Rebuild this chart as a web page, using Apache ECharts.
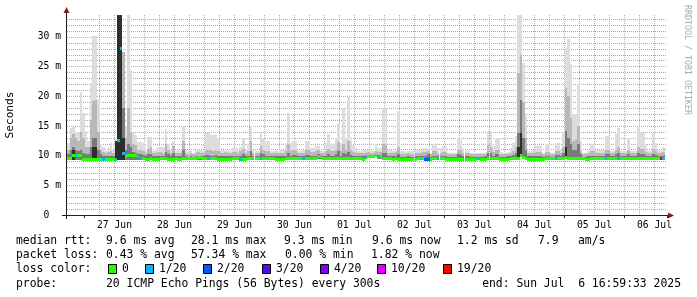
<!DOCTYPE html>
<html><head><meta charset="utf-8">
<script src="https://cdn.jsdelivr.net/npm/echarts@6/dist/echarts.min.js"></script>
<style>html,body{margin:0;padding:0;background:#fff}#c{width:697px;height:297px}</style>
</head><body><div id="c"></div><script>
// ---- data (hourly buckets, first bucket = Jun 26 17:00) ----
const dayLabels = ['27 Jun','28 Jun','29 Jun','30 Jun','01 Jul','02 Jul','03 Jul','04 Jul','05 Jul','06 Jul'];
const startHour = 17;
const yTickLabels = ['0  ','5 m','10 m','15 m','20 m','25 m','30 m'];

const smokeMax = [
 12.1,14.7,15.0,14.0,14.0,20.8,17.2,
 13.8,12.5,22.3,30.2,30.2,19.4,12.0,11.5,10.8,11.3,12.2,11.0,12.7,33.7,33.7,27.5,15.0,33.7,24.5,13.8,13.5,12.3,12.3,12.1,
 10.8,13.2,13.2,10.8,11.2,11.5,11.5,11.5,14.5,12.0,11.0,12.5,10.8,11.0,10.8,15.0,11.0,10.6,10.8,10.5,11.0,11.2,11.0,10.8,
 13.8,13.8,13.5,13.5,13.7,13.0,11.0,11.0,11.1,10.8,10.8,11.3,11.3,11.0,11.5,13.0,10.9,12.0,15.0,11.0,10.8,10.8,13.9,13.0,
 12.5,12.5,10.8,10.8,10.9,10.8,11.0,11.0,12.2,17.2,12.2,12.5,12.5,10.8,10.8,10.9,12.5,12.5,11.3,11.3,11.6,11.6,10.8,10.8,
 12.2,13.7,11.9,11.9,13.0,15.3,12.2,18.1,13.0,19.8,12.7,11.8,11.3,10.8,10.8,10.9,11.0,11.0,10.9,10.8,12.0,11.3,11.3,18.1,
 18.0,11.0,10.9,10.8,11.0,17.6,10.7,10.7,10.6,10.8,10.7,10.7,11.0,11.0,11.0,11.3,11.3,11.0,10.5,11.9,11.9,11.3,11.3,11.6,
 11.6,10.5,10.5,10.5,10.5,13.0,12.7,11.3,11.0,10.8,10.4,10.4,10.4,10.4,10.4,10.4,10.6,14.1,14.1,11.6,12.9,12.9,10.6,10.4,
 10.4,10.6,11.3,12.2,13.3,33.7,33.7,25.6,16.9,10.8,10.8,11.0,11.6,11.6,11.6,10.5,11.9,11.9,10.5,10.5,12.2,12.2,11.0,14.0,
 28.2,29.6,25.4,17.0,17.0,22.0,12.5,10.4,10.4,10.8,11.9,11.9,11.0,11.0,11.0,11.0,13.3,13.3,10.7,10.7,13.6,14.7,10.8,10.8,
 10.8,13.0,10.8,10.8,10.8,15.0,13.9,13.9,11.9,10.8,10.8,13.9,12.2,11.0,10.8,11.5,null
];
const smokeMid = [
 11.0,13.0,13.6,13.0,12.5,14.0,13.0,
 11.5,11.5,16.0,19.2,19.4,14.0,11.0,10.6,10.4,10.6,10.8,10.4,12.3,33.7,33.7,27.5,13.0,18.0,14.0,12.0,11.8,11.0,11.0,10.8,
 10.4,11.2,11.5,10.4,10.5,10.6,10.6,10.5,12.0,11.0,10.5,11.6,10.4,10.5,10.4,12.5,10.5,10.3,10.4,10.3,10.5,10.6,10.5,10.4,
 11.0,11.0,10.9,10.8,11.0,10.8,10.5,10.5,10.6,10.4,10.4,10.6,10.6,10.5,10.7,11.2,10.4,10.8,12.5,10.5,10.4,10.4,11.6,11.0,
 10.8,10.8,10.4,10.4,10.5,10.4,10.5,10.5,10.8,12.0,10.8,10.9,10.9,10.4,10.4,10.5,10.9,10.9,10.6,10.6,10.7,10.9,10.4,10.4,
 10.8,11.2,10.7,10.7,11.0,12.3,10.8,12.0,11.0,12.5,10.9,10.6,10.5,10.4,10.4,10.5,10.5,10.6,10.5,10.4,10.8,10.6,10.6,12.0,
 11.8,10.5,10.4,10.4,10.6,11.5,10.3,10.3,10.3,10.4,10.3,10.3,10.5,10.5,10.5,10.6,10.6,10.8,10.2,10.7,10.7,10.5,10.5,10.6,
 10.6,10.2,10.2,10.2,10.2,11.0,10.9,10.5,10.4,10.4,10.2,10.2,10.2,10.2,10.2,10.2,10.3,11.8,11.5,10.6,11.0,11.0,10.3,10.2,
 10.2,10.3,10.5,10.8,11.5,24.0,27.0,19.0,13.0,10.4,10.4,10.5,10.6,10.6,10.6,10.2,10.6,10.6,10.2,10.2,10.8,10.8,10.5,11.5,
 21.4,20.0,16.4,12.5,12.8,15.0,10.8,10.2,10.2,10.4,10.7,10.7,10.5,10.5,10.5,10.5,11.0,11.0,10.4,10.4,11.0,11.5,10.4,10.4,
 10.4,11.0,10.4,10.4,10.4,11.5,11.2,11.2,10.6,10.4,10.4,11.2,10.8,10.5,10.4,10.6,null
];
const smokeDark = [
 10.2,11.0,11.5,11.0,10.8,11.0,10.5,
 10.2,10.2,11.5,13.0,13.0,11.0,10.2,10.0,9.9,10.0,10.0,9.9,12.0,33.7,33.7,18.0,11.0,12.0,11.5,10.6,10.5,10.3,10.3,10.1,
 9.9,10.2,10.3,9.9,9.9,10.0,10.0,9.9,10.6,10.2,9.9,10.5,9.9,9.9,9.9,11.0,9.9,9.8,9.9,9.8,9.9,10.0,9.9,9.9,
 10.1,10.1,10.0,10.0,10.1,10.0,9.9,9.9,9.9,9.9,9.9,10.0,10.0,9.9,10.0,10.2,9.9,10.0,10.8,9.9,9.9,9.9,10.5,10.2,
 10.0,10.0,9.9,9.9,9.9,9.9,9.9,9.9,10.0,10.5,10.0,10.1,10.1,9.9,9.9,9.9,10.1,10.1,10.0,10.0,10.0,10.2,9.9,9.9,
 10.0,10.2,10.0,10.0,10.2,10.8,10.0,10.5,10.2,10.6,10.1,10.0,9.9,9.9,9.9,9.9,10.0,10.0,10.0,9.9,10.1,10.0,10.0,10.5,
 10.4,9.9,9.9,9.9,10.0,10.3,9.8,9.8,9.8,9.9,9.8,9.8,9.9,9.9,9.9,10.0,10.0,10.3,9.8,10.0,10.0,9.9,9.9,10.0,
 10.0,9.8,9.8,9.8,9.8,10.2,10.1,9.9,9.9,9.9,9.8,9.8,9.8,9.8,9.8,9.8,9.9,10.5,10.4,10.0,10.2,10.2,9.8,9.8,
 9.8,9.9,10.0,10.1,10.5,13.8,19.4,13.0,11.0,9.9,9.9,10.0,10.0,10.0,10.0,9.8,10.0,10.0,9.8,9.8,10.1,10.1,9.9,10.5,
 14.1,13.0,12.0,11.0,11.0,12.0,10.2,9.8,9.8,9.9,10.0,10.0,9.9,9.9,9.9,9.9,10.2,10.2,9.9,9.9,10.2,10.5,9.9,9.9,
 9.9,10.2,9.9,9.9,9.9,10.5,10.3,10.3,10.0,9.9,9.9,10.3,10.1,9.9,9.9,10.0,null
];
const smokeMin = [
 9.2,9.2,9.3,9.3,9.3,9.3,9.2,
 9.1,9.1,9.1,9.1,9.1,9.1,9.1,9.1,9.1,9.1,9.1,9.1,9.2,9.3,9.3,9.3,9.3,9.3,9.3,9.3,9.3,9.3,9.2,9.2,
 9.1,9.1,9.2,9.1,9.1,9.1,9.2,9.2,9.2,9.1,9.1,9.1,9.2,9.1,9.1,9.2,9.2,9.2,9.2,9.3,9.3,9.3,9.3,9.3,
 9.2,9.2,9.2,9.2,9.2,9.1,9.1,9.1,9.1,9.1,9.1,9.2,9.2,9.2,9.1,9.1,9.1,9.2,9.2,9.2,9.2,9.3,9.3,9.2,
 9.2,9.2,9.2,9.2,9.1,9.1,9.1,9.1,9.2,9.2,9.2,9.2,9.2,9.2,9.2,9.2,9.2,9.2,9.2,9.2,9.2,9.5,9.5,9.3,
 9.2,9.2,9.2,9.2,9.2,9.2,9.2,9.2,9.2,9.2,9.2,9.2,9.2,9.2,9.2,9.1,9.5,9.6,9.6,9.6,9.7,9.5,9.5,9.3,
 9.2,9.2,9.2,9.1,9.2,9.1,9.1,9.1,9.1,9.1,9.1,9.1,9.1,9.2,9.2,9.2,9.1,9.1,9.1,9.2,9.2,9.3,9.2,9.2,
 9.1,9.1,9.1,9.1,9.1,9.1,9.1,9.1,9.1,9.1,9.1,9.1,9.1,9.2,9.1,9.1,9.1,9.2,9.2,9.2,9.2,9.2,9.1,9.1,
 9.1,9.1,9.2,9.2,9.2,9.3,9.7,9.4,9.2,9.1,9.1,9.1,9.1,9.1,9.1,9.1,9.2,9.2,9.2,9.2,9.2,9.2,9.2,9.2,
 9.4,9.3,9.2,9.2,9.3,9.2,9.2,9.2,9.1,9.1,9.2,9.2,9.2,9.2,9.2,9.2,9.3,9.3,9.2,9.2,9.3,9.3,9.2,9.2,
 9.2,9.2,9.2,9.2,9.2,9.2,9.2,9.2,9.2,9.2,9.2,9.2,9.3,9.3,9.3,9.3,null
];
// hours where the innermost pings are far from the rest (near-black core)
const coreHours = [2, 10, 11, 19, 20, 21, 22, 180, 181, 199];
const coreTop   = [11.0, 11.5, 11.5, 12.4, 33.7, 33.7, 13.0, 11.5, 13.8, 11.5];
const medianRtt = [
 9.45,9.45,10.1,10.1,10.0,10.0,9.4,
 9.4,9.4,9.4,9.4,9.4,9.4,9.4,9.4,9.4,9.4,9.4,9.4,9.4,12.6,28.0,10.3,9.8,10.1,10.1,10.0,10.0,9.8,9.6,9.5,
 9.4,9.4,9.5,9.4,9.4,9.4,9.5,9.5,9.5,9.4,9.4,9.4,9.5,9.4,9.4,9.5,9.5,9.5,9.5,9.6,9.6,9.7,9.7,9.6,
 9.5,9.5,9.5,9.5,9.5,9.4,9.4,9.4,9.4,9.4,9.4,9.5,9.5,9.5,9.4,9.4,9.4,9.5,9.5,9.5,9.5,9.6,9.6,9.5,
 9.5,9.5,9.5,9.5,9.4,9.4,9.4,9.4,9.5,9.5,9.5,9.5,9.5,9.5,9.5,9.5,9.5,9.5,9.5,9.5,9.5,9.9,9.9,9.6,
 9.5,9.5,9.5,9.5,9.5,9.5,9.5,9.5,9.5,9.5,9.5,9.5,9.5,9.5,9.5,9.4,9.8,9.9,9.9,9.9,10.0,9.8,9.8,9.6,
 9.5,9.5,9.5,9.4,9.5,9.4,9.4,9.4,9.4,9.4,9.4,9.4,9.4,9.5,9.5,9.5,9.4,9.4,9.4,9.5,9.5,9.6,9.5,9.5,
 9.4,9.4,9.4,9.4,9.4,9.4,9.4,9.4,9.4,9.4,9.4,9.4,9.4,9.5,9.4,9.4,9.4,9.5,9.5,9.5,9.5,9.5,9.4,9.4,
 9.4,9.4,9.5,9.5,9.5,9.6,10.0,9.7,9.5,9.4,9.4,9.4,9.4,9.4,9.4,9.4,9.5,9.5,9.5,9.5,9.5,9.5,9.5,9.5,
 9.7,9.6,9.5,9.5,9.6,9.5,9.5,9.5,9.4,9.4,9.5,9.5,9.5,9.5,9.5,9.5,9.6,9.6,9.5,9.5,9.6,9.6,9.5,9.5,
 9.5,9.5,9.5,9.5,9.5,9.5,9.5,9.5,9.5,9.5,9.5,9.5,9.6,9.6,9.6,9.6,null
];
// hours (bucket index) with packet loss, and lost pings out of 20
const lossHours  = [3,14,19,20,21,22,28,29,56,69,77,94,119,124,141,143,144,148,164,195,215,220,237,238];
const lossCounts = [1,1,1,1,1,1,1,1,1,1,1,1,1,1,1,2,2,1,1,1,1,1,19,1];
const lossLegend = ['0','1/20','2/20','3/20','4/20','10/20','19/20'];
const lossThresholds = [0,1,2,3,4,10,19];
const statsRtt  = ['median rtt:', '9.6 ms avg', '28.1 ms max', '9.3 ms min', '9.6 ms now', '1.2 ms sd', '7.9', 'am/s'];
const statsLoss = ['packet loss:', '0.43 % avg', '57.34 % max', '0.00 % min', '1.82 % now'];
const probeText = ['probe:', '20 ICMP Echo Pings (56 Bytes) every 300s'];
const endText = 'end: Sun Jul  6 16:59:33 2025';

// ---- styles / layout ----
const lossColors = ['#26ff00','#00b8ff','#0059ff','#5e00ff','#7e00ff','#dd00ff','#ff0000'];
const MONO = '"DejaVu Sans Mono", monospace';
const G = {left: 67, top: 15, width: 600, height: 200};
const yMax = 33.7;
const rttX  = [16, 106, 191, 284, 372, 457, 538, 578];
const lossX = [16, 106, 191, 285, 371];
const probeX = [16, 106];
const boxX = [108, 145, 203, 262, 320, 377, 443];
const rowY = [241, 255, 269, 284];

const cats = smokeMax.map((_, i) => String(i));
const hourOf = i => (startHour + i) % 24;
const lossPerHour = smokeMax.map(() => 0);
lossHours.forEach((h, k) => { lossPerHour[h] = lossCounts[k]; });
const corePerHour = smokeMax.map(() => null);
coreHours.forEach((h, k) => { corePerHour[h] = coreTop[k]; });
function lossColor(c) { let col = lossColors[0]; lossThresholds.forEach((t, k) => { if (c >= t) col = lossColors[k]; }); return col; }

const chart = echarts.init(document.getElementById('c'), null, {renderer: 'canvas'});

function smokeItem(params, api) {
  const i = api.value(0);
  if (smokeMax[i] == null) return;
  const w = api.size([1, 0])[0];
  const cx = api.coord([i, 0])[0];
  const x0 = Math.round(cx - w / 2), x1 = Math.round(cx + w / 2);
  const yLo = Math.round(api.coord([i, smokeMin[i]])[1]);
  const layers = [[smokeMax[i], '#dddddd'], [smokeMid[i], '#b8b8b8'], [smokeDark[i], '#7a7a7a']];
  if (corePerHour[i] != null) layers.push([corePerHour[i], '#2e2e2e']);
  const children = layers.map(([v, col]) => {
    const yT = Math.round(api.coord([i, v])[1]);
    return {type: 'rect', shape: {x: x0, y: yT, width: x1 - x0, height: Math.max(0, yLo - yT)}, style: {fill: col}};
  });
  return {type: 'group', children};
}
function medianItem(params, api) {
  const i = api.value(0);
  const m = medianRtt[i];
  if (m == null) return;
  const w = api.size([1, 0])[0];
  const c = api.coord([i, m]);
  const x0 = Math.round(c[0] - w / 2), x1 = Math.round(c[0] + w / 2);
  return {type: 'rect', shape: {x: x0, y: Math.round(c[1] - 1.5), width: x1 - x0, height: 3},
          style: {fill: lossColor(lossPerHour[i])}};
}

const isMidnight = idx => hourOf(idx) === 0;
const isSixHour = idx => hourOf(idx) % 6 === 0 && hourOf(idx) !== 0;

const graphics = [];
graphics.push({type: 'line', shape: {x1: 62, y1: 215.5, x2: 670, y2: 215.5}, style: {stroke: '#1f1f1f', lineWidth: 1}, z: 100});
graphics.push({type: 'line', shape: {x1: 66.5, y1: 219, x2: 66.5, y2: 12}, style: {stroke: '#1f1f1f', lineWidth: 1}, z: 100});
graphics.push({type: 'polygon', shape: {points: [[668, 212.5], [674, 215.5], [668, 218.5]]}, style: {fill: '#801f1f'}, z: 101});
graphics.push({type: 'polygon', shape: {points: [[63.5, 13], [66.5, 7], [69.5, 13]]}, style: {fill: '#801f1f'}, z: 101});
const txt = (text, x, y, extra) => ({type: 'text', x, y, z: 100,
  style: Object.assign({text, font: '11.4px ' + MONO, fill: '#000', textAlign: 'left', textVerticalAlign: 'middle'}, extra || {})});
graphics.push(Object.assign(txt('Seconds', 10, 115, {textAlign: 'center', font: '11.1px ' + MONO}), {rotation: Math.PI / 2}));
graphics.push(Object.assign(txt('RRDTOOL / TOBI OETIKER', 687, 60, {textAlign: 'center', font: '8.3px ' + MONO, fill: '#aaaaaa'}), {rotation: -Math.PI / 2}));
statsRtt.forEach((s, k) => graphics.push(txt(s, rttX[k], rowY[0])));
statsLoss.forEach((s, k) => graphics.push(txt(s, lossX[k], rowY[1])));
graphics.push(txt('loss color:', 16, rowY[2]));
lossLegend.forEach((lab, k) => {
  graphics.push({type: 'rect', shape: {x: boxX[k] + 0.5, y: rowY[2] - 4.5, width: 8, height: 9}, style: {fill: lossColors[k], stroke: '#000', lineWidth: 1}, z: 100});
  graphics.push(txt(lab, boxX[k] + 14, rowY[2]));
});
probeText.forEach((s, k) => graphics.push(txt(s, probeX[k], rowY[3])));
graphics.push(txt(endText, 681, rowY[3], {textAlign: 'right'}));

chart.setOption({
  animation: false,
  backgroundColor: '#ffffff',
  grid: {left: G.left, top: G.top, width: G.width, height: G.height, containLabel: false},
  xAxis: [
    {type: 'category', data: cats, boundaryGap: true, gridIndex: 0,
     axisLine: {show: false}, axisTick: {show: false},
     axisLabel: {interval: (idx) => hourOf(idx) === 12, fontFamily: 'DejaVu Sans Mono', fontSize: 9.7, color: '#000', margin: 5,
                 padding: [0, 2.5, 0, 0],
                 formatter: (v, idx) => dayLabels[Math.floor((idx + startHour) / 24) - 1] || ''},
     splitLine: {show: true, interval: isSixHour, showMinLine: false, showMaxLine: false,
                 lineStyle: {color: 'rgba(143,143,143,0.75)', width: 1, type: [1, 1]}}},
    {type: 'category', data: cats, boundaryGap: true, gridIndex: 0, position: 'bottom',
     axisLine: {show: false}, axisLabel: {show: false},
     axisTick: {show: true, interval: isMidnight, length: 3, inside: false, lineStyle: {color: '#1f1f1f'}},
     splitLine: {show: true, interval: isMidnight, showMinLine: false, showMaxLine: false,
                 lineStyle: {color: 'rgba(222,79,79,0.6)', width: 1, type: [1, 1]}}}
  ],
  yAxis: [
    {type: 'value', min: 0, max: yMax, interval: 5, gridIndex: 0,
     axisLine: {show: false}, axisTick: {show: false},
     axisLabel: {fontFamily: 'DejaVu Sans Mono', fontSize: 9.7, color: '#000', margin: 6,
                 formatter: v => (v % 5 === 0 && yTickLabels[v / 5] !== undefined) ? yTickLabels[v / 5] : ''},
     splitLine: {show: true, showMinLine: false, showMaxLine: false, lineStyle: {color: 'rgba(222,79,79,0.6)', width: 1, type: [1, 1]}},
     minorTick: {show: false, splitNumber: 5},
     minorSplitLine: {show: true, lineStyle: {color: 'rgba(143,143,143,0.75)', width: 1, type: [1, 1]}}}
  ],
  series: [
    {type: 'custom', name: 'smoke', xAxisIndex: 0, yAxisIndex: 0, clip: true,
     data: cats.map((_, i) => [i, smokeMax[i]]), encode: {x: 0, y: 1}, renderItem: smokeItem, z: 2},
    {type: 'custom', name: 'median', xAxisIndex: 0, yAxisIndex: 0, clip: true,
     data: cats.map((_, i) => [i, medianRtt[i]]), encode: {x: 0, y: 1}, renderItem: medianItem, z: 3}
  ],
  graphic: graphics
});
</script></body></html>
